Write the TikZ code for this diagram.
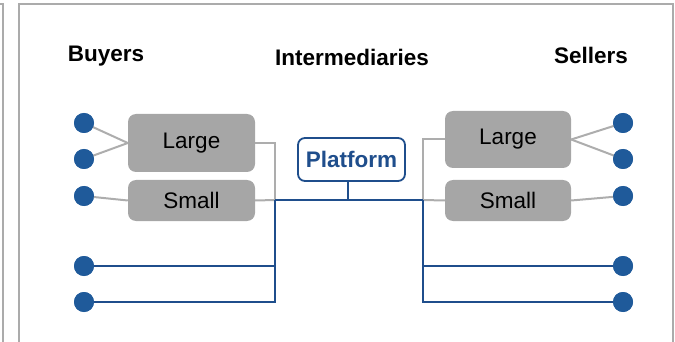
\documentclass[tikz,border=0pt]{standalone}
\usepackage{fontspec}
\setmainfont{Liberation Sans}
\definecolor{frame}{HTML}{ABABAB}
\definecolor{boxgray}{HTML}{A6A6A6}
\definecolor{linegray}{HTML}{ADADAD}
\definecolor{dotblue}{HTML}{1F5A9A}
\definecolor{lineblue}{HTML}{1F4E8C}
\begin{document}
\begin{tikzpicture}[x=1pt,y=-1pt,
  every node/.style={font=\fontsize{22.5}{26}\selectfont},
  head/.style={font=\fontsize{22.5}{26}\selectfont\bfseries},
  graybox/.style={fill=boxgray,draw=none,rounded corners=8pt,inner sep=0pt,text=black},
  platbox/.style={fill=white,draw=lineblue,line width=1.8pt,rounded corners=7pt,inner sep=0pt,text=lineblue,font=\fontsize{22.5}{26}\selectfont\bfseries},
  dot/.style={circle,fill=dotblue,draw=none,minimum size=20pt,inner sep=0pt},
  gline/.style={draw=linegray,line width=2pt},
  bline/.style={draw=lineblue,line width=1.8pt},
  thinbline/.style={draw=lineblue,line width=1.2pt},
  frameline/.style={draw=frame,line width=2pt}]
\useasboundingbox (0,0) rectangle (675,342);
% frames
\draw[frameline] (0,4) -- (3,4) -- (3,345);
\draw[frameline] (19,345) -- (19,4) -- (673,4) -- (673,345);
% headings
\node[head] (buyers) at (106,56) {Buyers};
\node[head] (inter) at (352,57) {Intermediaries};
\node[head] (sellers) at (591,55) {Sellers};
% boxes
\node[graybox,minimum width=127pt,minimum height=58pt] (LL) at (191.5,143) {Large};
\node[graybox,minimum width=127pt,minimum height=41pt] (SL) at (191.5,200.5) {Small};
\node[graybox,minimum width=126pt,minimum height=57pt] (LR) at (508,139.5) {Large};
\node[graybox,minimum width=126pt,minimum height=41pt] (SR) at (508,200.5) {Small};
\node[platbox,minimum width=107pt,minimum height=43pt] (plat) at (351.5,159.5) {Platform};
% junctions
\coordinate (jL) at (275,200);
\coordinate (jR) at (423,200);
\coordinate (pdrop) at (348,181);
% dots
\node[dot] (b1) at (84,123) {};
\node[dot] (b2) at (84,159) {};
\node[dot] (b3) at (84,196) {};
\node[dot] (b4) at (84,266) {};
\node[dot] (b5) at (84,302) {};
\node[dot] (s1) at (623,123) {};
\node[dot] (s2) at (623,159) {};
\node[dot] (s3) at (623,196) {};
\node[dot] (s4) at (623,266) {};
\node[dot] (s5) at (623,302) {};
% gray connectors
\draw[gline] (b1.center) -- (LL.west);
\draw[gline] (b2.center) -- (LL.west);
\draw[gline] (b3.center) -- (SL.west);
\draw[gline] (LL.east) -| (jL);
\draw[gline] (SL.east) -- (jL);
\draw[gline] (s1.center) -- (LR.east);
\draw[gline] (s2.center) -- (LR.east);
\draw[gline] (s3.center) -- (SR.east);
\draw[gline] (LR.west) -| (jR);
\draw[gline] (SR.west) -- (jR);
% blue connectors
\draw[bline] (jL) -- (jR);
\draw[thinbline] (pdrop) -- (pdrop |- jL);
\draw[bline] (jL) |- (b5.center);
\draw[thinbline] (b4.center) -- (b4.center -| jL);
\draw[bline] (jR) |- (s5.center);
\draw[thinbline] (s4.center) -- (s4.center -| jR);
% dots on top
\foreach \n in {b1,b2,b3,b4,b5,s1,s2,s3,s4,s5}{\fill[dotblue] (\n) circle (10pt);}
\end{tikzpicture}
\end{document}
